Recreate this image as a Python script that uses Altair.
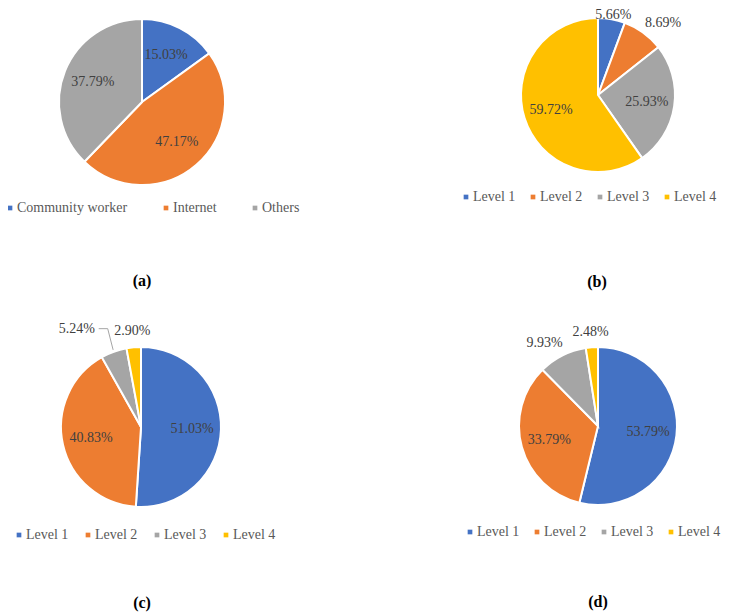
import altair as alt
import pandas as pd

# ---------------- data ----------------
captions = ["(a)", "(b)", "(c)", "(d)"]

cats_a = ["Community worker", "Internet", "Others"]
vals_a = [15.03, 47.17, 37.79]

levels = ["Level 1", "Level 2", "Level 3", "Level 4"]
vals_b = [5.66, 8.69, 25.93, 59.72]
vals_c = [51.03, 40.83, 5.24, 2.90]
vals_d = [53.79, 33.79, 9.93, 2.48]

colors_a = ["#4472C4", "#ED7D31", "#A5A5A5"]
colors_lv = ["#4472C4", "#ED7D31", "#A5A5A5", "#FFC000"]

W, H = 713, 604
SERIF = "Liberation Serif"


def nested(shift, idx):
    expr = "0"
    for c, v in shift.items():
        expr = f"(datum.category == '{c}' ? {v[idx]} : {expr})"
    return expr


def pie(cats, vals, colors, cx, cy, R, lx, ly, cp, shift=None, leader=None):
    shift = shift or {}
    df = pd.DataFrame({"category": cats, "value": vals, "order": list(range(len(cats)))})
    base = alt.Chart(df)
    arc = base.mark_arc(radius=R, stroke="white", strokeWidth=2).encode(
        theta=alt.Theta("value:Q", stack=True),
        color=alt.Color(
            "category:N",
            scale=alt.Scale(domain=cats, range=colors),
            legend=alt.Legend(
                orient="none", legendX=lx, legendY=ly, direction="horizontal",
                title=None, symbolType="square", symbolSize=22, symbolStrokeWidth=0,
                labelFont=SERIF, labelFontSize=14, labelColor="#595959",
                columnPadding=cp, labelOffset=0, labelLimit=300,
            ),
        ),
        order=alt.Order("order:Q"),
        x=alt.value(cx), y=alt.value(cy),
    )
    pos = (
        base.transform_joinaggregate(total="sum(value)")
        .transform_window(cum="sum(value)", sort=[alt.SortField("order")], frame=[None, 0])
        .transform_calculate(
            mid="(datum.cum - datum.value / 2) / datum.total * 2 * PI",
            rr=f"datum.value < 10 ? {R + 15} : {R * 0.64}",
            sx=nested(shift, 0),
            sy=nested(shift, 1),
            label="format(datum.value, '.2f') + '%'",
        )
        .transform_calculate(
            px=f"{cx} + datum.rr * sin(datum.mid) + datum.sx",
            py=f"{cy} - datum.rr * cos(datum.mid) + datum.sy",
            ex=f"{cx} + {R + 2} * sin(datum.mid)",
            ey=f"{cy} - {R + 2} * cos(datum.mid)",
        )
    )
    text = pos.mark_text(font=SERIF, fontSize=14, color="#404040").encode(
        x=alt.X("px:Q", scale=None, axis=None),
        y=alt.Y("py:Q", scale=None, axis=None),
        text="label:N",
    )
    layers = [arc, text]
    if leader:
        lp = pos.transform_filter(alt.datum.category == leader).transform_calculate(
            ax="datum.px + 22", bx="datum.px + 31"
        )
        r1 = lp.mark_rule(color="#A5A5A5", strokeWidth=1).encode(
            x=alt.X("ax:Q", scale=None, axis=None), x2="bx:Q",
            y=alt.Y("py:Q", scale=None, axis=None), y2="py:Q",
        )
        r2 = lp.mark_rule(color="#A5A5A5", strokeWidth=1).encode(
            x=alt.X("bx:Q", scale=None, axis=None), x2="ex:Q",
            y=alt.Y("py:Q", scale=None, axis=None), y2="ey:Q",
        )
        layers += [r1, r2]
    return alt.layer(*layers)


pa = pie(cats_a, vals_a, colors_a, 134, 94, 83, -5, 193, 31)
pb = pie(levels, vals_b, colors_lv, 590, 87, 77, 451, 182, 10,
         shift={"Level 1": (-1, 11), "Level 2": (11, 2)})
pc = pie(levels, vals_c, colors_lv, 133, 419, 80, 4, 520, 12,
         shift={"Level 3": (-32, -9), "Level 4": (0, -1)}, leader="Level 3")
pd_ = pie(levels, vals_d, colors_lv, 590, 418, 79, 455, 517, 10,
          shift={"Level 3": (-11, 1)})

cap_df = pd.DataFrame({"caption": captions})
cap_pos = [(134, 273), (589, 274), (134, 595), (590, 594)]
caps = []
for c, (x, y) in zip(captions, cap_pos):
    caps.append(
        alt.Chart(cap_df)
        .transform_filter(alt.datum.caption == c)
        .mark_text(font=SERIF, fontSize=16, fontWeight="bold", color="black")
        .encode(text="caption:N", x=alt.value(x), y=alt.value(y))
    )

chart = (
    alt.layer(pa, pb, pc, pd_, *caps)
    .resolve_scale(color="independent", theta="independent")
    .properties(width=W, height=H, autosize=alt.AutoSizeParams(type="none"), padding=0)
    .configure_view(stroke=None)
)

chart.save("out.html", embed_options={"renderer": "svg", "actions": False})
